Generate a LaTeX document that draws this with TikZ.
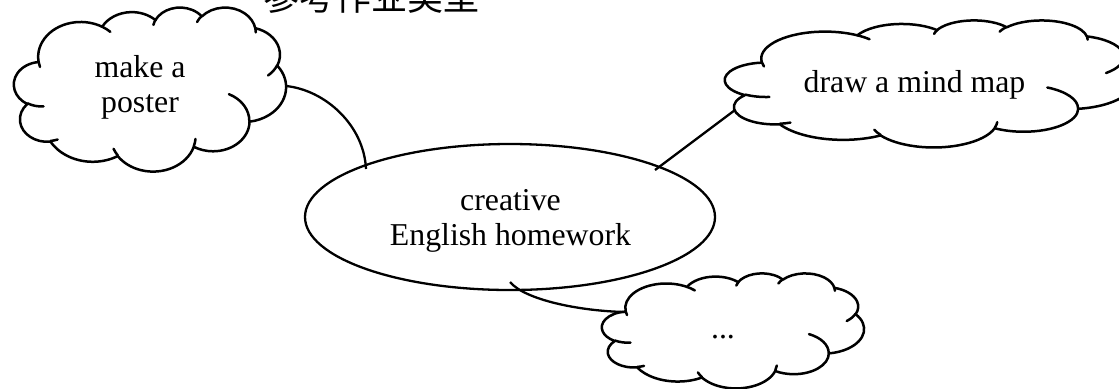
\documentclass[tikz,border=0pt]{standalone}
\usepackage{fontspec}
\setmainfont{Liberation Serif}
\newfontfamily\cjkfont{Noto Sans CJK SC}
\usetikzlibrary{shapes.geometric}
\tikzset{
  carc/.style n args={4}{insert path={arc[x radius=#1, y radius=#2,
     start angle={atan2((#1)*sin(#3),(#2)*cos(#3))},
     delta angle={mod(atan2((#1)*sin((#3)+(#4)),(#2)*cos((#3)+(#4)))-atan2((#1)*sin(#3),(#2)*cos(#3))+720,360)}]}},
  cloudline/.style={line width=1.25pt, line join=round, line cap=round},
  link/.style={line width=1.15pt},
  lbl/.style={font=\fontsize{15.9}{17.5}\selectfont, align=center, inner sep=0pt, outer sep=0pt},
  oval/.style={ellipse, draw, line width=1.15pt, minimum width=205pt, minimum height=73pt, inner sep=0pt, outer sep=0pt},
}
\newcommand\wcloud[4]{%
  \begin{scope}[shift={(#1,#2)}, xscale=#3/432, yscale=#4/432]
    \draw[cloudline, fill=white] (39.00,143.70)
      [carc={67.53}{91.90}{-190.48748}{123.78053}]
      [carc={53.33}{72.67}{-144.10238}{89.94523}]
      [carc={43.65}{59.45}{-145.80792}{99.72302}]
      [carc={48.57}{65.95}{-130.98607}{117.24173}]
      [carc={53.33}{72.73}{-78.70888}{109.02692}]
      [carc={67.75}{92.20}{-46.26725}{130.269}]
      [carc={57.85}{78.67}{0.62502}{114.03333}]
      [carc={67.52}{92.15}{22.4516}{115.17255}]
      [carc={77.20}{105.43}{66.24263}{75.71102}]
      [carc={43.60}{59.18}{-274.94208}{146.73557}]
      [carc={43.45}{59.45}{-246.8285}{152.51885}]
      -- cycle;
    \draw[cloudline]
      (46.93,261.77) [carc={43.45}{59.45}{86.742}{26.4295}]
      (69.28,348.99) [carc={43.60}{59.18}{73.61047}{11.44747}]
      (164.78,390.90) [carc={67.52}{92.15}{137.62415}{14.0811}]
      (288.27,347.51) [carc={67.52}{92.15}{6.45327}{15.99835}]
      (341.29,229.54) [carc={57.85}{78.67}{-70.29235}{70.91737}]
      (417.98,153.54) [carc={53.33}{72.73}{30.31803}{27.7515}]
      (383.24,54.26) [carc={48.57}{65.95}{-13.74433}{14.8589}]
      (290.78,39.52) [carc={48.57}{65.95}{-149.18145}{18.19537}]
      (221.41,47.20) [carc={43.65}{59.45}{-163.49427}{17.68635}]
      (140.00,51.92) [carc={67.53}{91.90}{-66.70695}{12.31935}]
      (41.27,157.89) [carc={67.53}{91.90}{157.65435}{11.85817}];
  \end{scope}}
\begin{document}
\begin{tikzpicture}[x=0.5pt, y=-0.5pt]
  \useasboundingbox (0,0) rectangle (1119,388);
  \fill[white] (0,0) rectangle (1119,388);
  % title (cut off at the top, as in the reference)
  \node[font=\cjkfont\fontsize{18}{20}\selectfont, anchor=base, inner sep=0pt] (title) at (371,10) {参考作业类型};
  % clouds
  \wcloud{14}{7}{272}{164}
  \wcloud{725}{20}{408}{127}
  \wcloud{602}{273}{262}{115}
  % central ellipse
  \node[oval] (hw) at (510,217) {};
  % labels
  \node[lbl] (poster) at (140,87.6) {make a\\poster};
  \node[lbl, anchor=base] (mind) at (914.5,92) {draw a mind map};
  \node[lbl, anchor=base] (more) at (723,338) {...};
  \node[lbl] (centre) at (510.5,221) {creative\\English homework};
  % connector end points
  \coordinate (p1) at (286,86);
  \coordinate (e1) at (366,169);
  \coordinate (p2) at (735,110);
  \coordinate (e2) at (655,170);
  \coordinate (e3) at (510,282);
  \coordinate (p3) at (625,312);
  % connectors
  \draw[link] (p1) .. controls (325,90) and (364,125) .. (e1);
  \draw[link] (e2) -- (p2);
  \draw[link] (e3) .. controls (525,300) and (580,311) .. (p3);
\end{tikzpicture}
\end{document}
